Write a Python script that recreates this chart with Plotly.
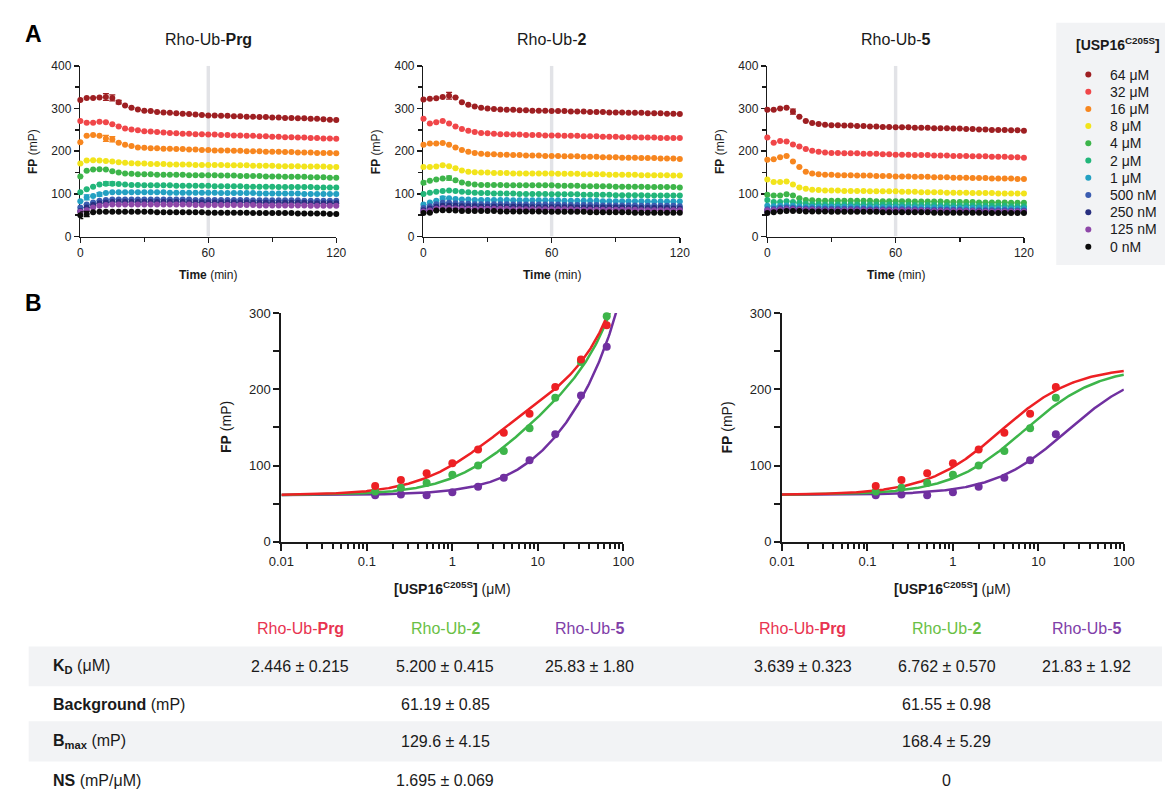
import numpy as np
import plotly.graph_objects as go

W, H = 1176, 796
FONT = "Liberation Sans, Arial, Helvetica, sans-serif"
INK = "#1a1a1a"

# ---------------- data: panel A (time courses) ----------------
TIME_MIN = list(range(0, 121, 3))
CONC_LABELS = ["64 μM", "32 μM", "16 μM", "8 μM", "4 μM", "2 μM", "1 μM",
               "500 nM", "250 nM", "125 nM", "0 nM"]
CONC_COLORS = ["#9e1f22", "#f04649", "#f7861f", "#f2e41b", "#3db54a", "#22b67a",
               "#23a0c2", "#3a5cb0", "#282f7f", "#8e47a8", "#0b0b0b"]
PANEL_TITLES = ["Rho-Ub-<b>Prg</b>", "Rho-Ub-<b>2</b>", "Rho-Ub-<b>5</b>"]

PRG_SERIES = [
    [320,325,325,326,327,325,315,307,302,298,295,294,292,291,290,289,288,287,286,285,284,284,283,283,282,282,281,281,280,280,279,279,278,278,277,277,276,276,275,274,273],
    [271,267,267,269,268,263,258,253,251,249,247,246,245,244,243,242,241,241,240,240,239,239,238,238,237,237,236,236,235,235,234,234,233,233,232,232,231,231,230,230,229],
    [221,236,238,236,230,228,220,215,212,209,208,207,207,206,206,205,205,204,204,203,203,202,202,202,201,201,200,200,200,199,199,199,198,198,197,197,197,196,196,196,195],
    [171,178,179,178,177,176,174,173,172,171,171,170,170,170,169,169,169,169,168,168,168,168,168,167,167,167,167,166,166,166,166,165,165,165,165,164,164,164,164,163,163],
    [141,154,157,158,157,153,150,148,147,146,146,146,145,145,145,145,145,144,144,144,144,144,143,143,143,142,142,142,142,141,141,141,140,140,140,140,139,139,139,138,138],
    [104,111,117,122,124,124,123,122,121,121,120,120,120,120,120,119,119,119,119,119,119,118,118,118,118,118,117,117,117,117,117,116,116,116,116,116,116,115,115,115,115],
    [83,92,95,99,102,104,104,104,104,104,104,104,104,104,103,103,103,103,103,103,103,103,102,102,102,102,102,102,101,101,101,101,101,101,101,100,100,100,100,100,100],
    [68,75,80,84,86,87,87,87,87,87,87,87,87,87,87,87,87,87,86,86,86,86,86,86,86,86,86,85,85,85,85,85,85,85,85,84,84,84,84,84,84],
    [60,68,74,78,80,81,81,81,81,81,81,81,81,81,81,81,81,80,80,80,80,80,80,80,80,80,80,79,79,79,79,79,79,79,79,79,78,78,78,78,78],
    [58,62,68,72,74,75,75,75,75,75,75,75,75,75,75,75,75,75,74,74,74,74,74,74,74,74,74,74,73,73,73,73,73,73,73,73,72,72,72,72,72],
    [50,53,57,58,58,58,58,58,58,58,58,58,57,57,57,57,57,57,57,57,56,56,56,56,56,56,56,55,55,55,55,55,55,55,54,54,54,54,54,53,53],
]
UB2_SERIES = [
    [321,323,324,327,330,326,315,309,305,302,300,299,298,297,297,296,296,295,295,295,294,294,294,293,293,293,292,292,292,291,291,291,290,290,290,289,289,289,288,288,287],
    [276,265,268,271,265,258,252,248,245,243,242,241,240,240,239,239,238,238,238,237,237,237,236,236,236,235,235,235,234,234,234,233,233,233,232,232,232,231,231,231,231],
    [215,218,218,219,215,209,203,199,196,194,193,193,192,192,191,191,190,190,190,189,189,189,188,188,188,187,187,187,186,186,186,185,185,185,184,184,184,183,183,183,182],
    [163,163,164,167,165,160,155,152,151,150,150,149,149,149,148,148,148,148,148,148,148,147,147,147,147,146,146,146,146,145,145,145,145,145,144,144,144,144,144,143,143],
    [126,131,134,136,137,132,127,124,122,121,121,121,121,120,120,120,120,120,120,120,120,119,119,119,119,118,118,118,118,118,117,117,117,117,117,116,116,116,116,116,115],
    [100,103,105,107,108,107,105,104,103,102,102,101,101,101,101,100,100,100,100,100,99,99,99,99,99,98,98,98,98,98,97,97,97,97,97,96,96,96,96,96,96],
    [75,80,84,90,90,88,87,87,86,86,86,86,86,86,85,85,85,85,85,85,85,85,84,84,84,84,84,84,83,83,83,83,83,83,83,82,82,82,82,82,82],
    [67,71,76,79,79,78,77,77,76,76,76,76,76,76,75,75,75,75,75,75,75,75,74,74,74,74,74,74,73,73,73,73,73,73,72,72,72,72,72,72,71],
    [62,66,70,72,72,72,71,71,71,70,70,70,70,70,70,70,70,69,69,69,69,69,69,69,68,68,68,68,68,68,68,68,67,67,67,67,67,67,67,66,66],
    [59,61,65,67,67,66,66,65,65,65,65,65,65,65,64,64,64,64,64,64,64,64,64,64,63,63,63,63,63,63,63,63,63,63,62,62,62,62,62,62,62],
    [55,56,61,62,62,61,60,60,60,60,60,60,59,59,59,59,59,59,59,58,58,58,58,58,58,58,57,57,57,57,57,57,57,56,56,56,56,56,56,56,56],
]
UB5_SERIES = [
    [297,297,300,302,293,281,271,266,264,262,261,261,260,260,259,259,258,258,257,257,256,256,256,255,255,255,254,254,254,253,253,252,252,251,251,250,250,250,249,249,248],
    [232,220,224,223,216,211,205,201,199,197,196,196,195,195,195,194,194,194,193,193,192,192,192,191,191,191,190,190,190,189,189,189,188,188,188,187,187,187,186,186,185],
    [180,181,186,189,176,163,152,148,146,145,145,144,144,144,143,143,143,142,142,142,141,141,141,140,140,140,139,139,139,138,138,138,137,137,137,136,136,136,136,135,135],
    [134,128,128,129,122,115,112,110,109,108,108,108,107,107,107,107,106,106,106,106,106,105,105,105,104,104,104,104,103,103,103,103,102,102,102,102,101,101,101,101,101],
    [98,96,96,99,96,90,86,85,84,84,84,84,84,84,84,84,84,83,83,83,83,83,83,82,82,82,82,82,81,81,81,81,81,80,80,80,80,80,79,79,79],
    [86,81,81,83,81,79,77,76,76,75,75,75,75,75,75,75,75,75,75,75,75,74,74,74,74,74,74,73,73,73,73,73,73,72,72,72,72,72,71,71,71],
    [72,71,72,73,72,71,70,70,70,70,70,70,70,70,69,69,69,69,69,69,69,69,68,68,68,68,68,68,67,67,67,67,67,67,67,66,66,66,66,66,66],
    [64,65,67,68,67,66,66,66,65,65,65,65,65,65,65,65,64,64,64,64,64,64,64,64,63,63,63,63,63,63,63,62,62,62,62,62,62,62,61,61,61],
    [59,61,63,64,64,63,62,62,62,62,62,62,61,61,61,61,61,61,61,61,60,60,60,60,60,60,60,60,59,59,59,59,59,59,59,58,58,58,58,58,58],
    [61,62,63,64,64,63,63,63,62,62,62,62,62,62,62,62,61,61,61,61,61,61,61,61,61,60,60,60,60,60,60,60,60,59,59,59,59,59,59,59,59],
    [55,57,59,60,60,60,59,59,59,59,58,58,58,58,58,58,58,58,57,57,57,57,57,57,57,57,56,56,56,56,56,56,56,56,55,55,55,55,55,55,55],
]
# (panel index, series index, time index, SEM)
ERROR_BARS = [(0, 0, 4, 8), (0, 0, 5, 7), (0, 0, 6, 4), (0, 2, 4, 7), (0, 2, 5, 6),
              (0, 5, 4, 4), (0, 5, 5, 4), (0, 6, 1, 6), (0, 6, 3, 4), (0, 10, 0, 8),
              (0, 10, 1, 6), (1, 0, 4, 8), (1, 4, 0, 4), (1, 4, 4, 5), (1, 6, 3, 4),
              (2, 0, 4, 6)]

# ---------------- data: panel B (binding curves) ----------------
CONC_UM = [0.125, 0.25, 0.5, 1, 2, 4, 8, 16, 32, 64]
FP_PRG = [73, 81, 90, 103, 121, 143, 168, 203, 239, 284]
FP_UB2 = [66, 71, 77, 88, 100, 119, 149, 189, 236, 296]
FP_UB5 = [61, 62, 61, 65, 72, 84, 107, 141, 192, 256]
PROBES = ["Rho-Ub-<b>Prg</b>", "Rho-Ub-<b>2</b>", "Rho-Ub-<b>5</b>"]
PROBE_COLORS = ["#ed2024", "#3db54a", "#7030a0"]
PROBE_HEADER_COLORS = ["#e83450", "#6abf45", "#8040a8"]
N_RIGHT = 8  # right-hand fit uses concentrations up to 16 µM

# fit parameters (table)
KD_LEFT = [2.446, 5.200, 25.83]
BG_LEFT, BMAX_LEFT, NS_LEFT = 61.19, 129.6, 1.695
KD_RIGHT = [3.639, 6.762, 21.83]
BG_RIGHT, BMAX_RIGHT, NS_RIGHT = 61.55, 168.4, 0.0

ROW_LABELS = ["<b>K</b><sub><b>D</b></sub> (μM)", "<b>Background</b> (mP)",
              "<b>B</b><sub><b>max</b></sub> (mP)", "<b>NS</b> (mP/μM)"]
KD_TEXT = ["2.446 ± 0.215", "5.200 ± 0.415", "25.83 ± 1.80",
           "3.639 ± 0.323", "6.762 ± 0.570", "21.83 ± 1.92"]
SHARED_TEXT_LEFT = ["61.19 ± 0.85", "129.6 ± 4.15", "1.695 ± 0.069"]
SHARED_TEXT_RIGHT = ["61.55 ± 0.98", "168.4 ± 5.29", "0"]


# ---------------- helpers ----------------
def px(x):
    return x / W


def py(y):
    return 1 - y / H


def ann(text, x, y, size, color=INK, xanchor="center", angle=0):
    return dict(text=text, x=px(x), y=py(y), xref="paper", yref="paper", showarrow=False,
                xanchor=xanchor, yanchor="middle", textangle=angle,
                font=dict(family=FONT, size=size, color=color))


fig = go.Figure()
annotations = []
shapes = []

# ---------------- panel A ----------------
panel_px = [(68.7, 330.0), (419.0, 680.7), (770.0, 1032.0)]
top_y = (60.0, 234.0)
all_series = [PRG_SERIES, UB2_SERIES, UB5_SERIES]
for p, series in enumerate(all_series):
    xa, ya = f"x{p+1}", f"y{p+1}"
    for s, vals in enumerate(series):
        errs = [0] * len(vals)
        for (pp, ss, ti, e) in ERROR_BARS:
            if pp == p and ss == s:
                errs[ti] = e
        fig.add_trace(go.Scatter(
            x=TIME_MIN, y=vals, mode="markers", xaxis=xa, yaxis=ya, cliponaxis=False,
            marker=dict(size=6, color=CONC_COLORS[s], line=dict(width=0)),
            error_y=dict(type="data", array=errs, visible=True, thickness=1.2, width=3,
                         color=CONC_COLORS[s]),
            name=CONC_LABELS[s], showlegend=False, hoverinfo="skip"))
    shapes.append(dict(type="rect", xref=xa, yref=ya, x0=59.2, x1=60.8, y0=0, y1=400,
                       fillcolor="#e2e3e7", line=dict(width=0), layer="below"))
    cx = (panel_px[p][0] + panel_px[p][1]) / 2
    annotations.append(ann(PANEL_TITLES[p], cx, 33, 16))
    annotations.append(ann("<b>Time</b> (min)", cx, 273, 12))
    annotations.append(ann("<b>FP</b> (mP)", panel_px[p][0] - 48.5, 147, 12, angle=-90))

# ---------------- panel B ----------------
bot_px = [(274.0, 623.0), (785.0, 1134.0)]
bot_y = (312.0, 545.0)
xfit = np.logspace(-2, 2, 400)
fits = [(KD_LEFT, BG_LEFT, BMAX_LEFT, NS_LEFT, len(CONC_UM)),
        (KD_RIGHT, BG_RIGHT, BMAX_RIGHT, NS_RIGHT, N_RIGHT)]
points = [FP_PRG, FP_UB2, FP_UB5]
for b, (kds, bg, bmax, ns, npts) in enumerate(fits):
    xa, ya = f"x{b+4}", f"y{b+4}"
    for k in [2, 1, 0]:
        yfit = bg + bmax * xfit / (kds[k] + xfit) + ns * xfit
        fig.add_trace(go.Scatter(x=xfit, y=yfit, mode="lines", xaxis=xa, yaxis=ya,
                                 line=dict(color=PROBE_COLORS[k], width=2.5),
                                 showlegend=False, hoverinfo="skip"))
    for k in [2, 1, 0]:
        fig.add_trace(go.Scatter(x=CONC_UM[:npts], y=points[k][:npts], mode="markers",
                                 xaxis=xa, yaxis=ya, cliponaxis=False,
                                 marker=dict(size=8, color=PROBE_COLORS[k]),
                                 showlegend=False, hoverinfo="skip"))
    cx = (bot_px[b][0] + bot_px[b][1]) / 2
    annotations.append(ann("<b>[USP16<sup>C205S</sup>]</b> (μM)", cx, 592, 14))
    annotations.append(ann("<b>FP</b> (mP)", bot_px[b][0] - 56, 428.5, 14, angle=-90))

# ---------------- legend (drawn as its own small axis) ----------------
shapes.append(dict(type="rect", xref="paper", yref="paper", x0=px(1065), x1=1.0,
                   y0=py(263), y1=py(16), fillcolor="#f2f3f5", line=dict(width=0),
                   layer="below"))
idx = list(range(len(CONC_LABELS)))
fig.add_trace(go.Scatter(x=[20.7] * len(idx), y=idx, mode="markers", xaxis="x6", yaxis="y6",
                         marker=dict(size=6, color=CONC_COLORS), cliponaxis=False,
                         showlegend=False, hoverinfo="skip"))
LEG_TOP, LEG_STEP = 68.8, 17.55
for i, lab in enumerate(CONC_LABELS):
    annotations.append(ann(lab, 1118, LEG_TOP + i * LEG_STEP, 14, xanchor="left"))
annotations.append(ann("<b>[USP16<sup>C205S</sup>]</b>", 1128, 38, 14))

# ---------------- panel letters ----------------
annotations.append(ann("<b>A</b>", 21, 28, 23, color="#000"))
annotations.append(ann("<b>B</b>", 21, 302, 23, color="#000"))

# ---------------- table ----------------
for (y0, y1) in [(651.7, 692.3), (728.0, 769.0)]:
    shapes.append(dict(type="rect", xref="paper", yref="paper", x0=px(16), x1=px(1173),
                       y0=py(y1), y1=py(y0), fillcolor="#f2f3f5", line=dict(width=0),
                       layer="below"))
col_x = [293, 441, 589, 806, 953, 1096]
row_y = [672.5, 710.7, 749.0, 788.0]
for c in range(6):
    annotations.append(ann(PROBES[c % 3], col_x[c], 633, 16, color=PROBE_HEADER_COLORS[c % 3]))
    annotations.append(ann(KD_TEXT[c], col_x[c], row_y[0], 16))
for r, label in enumerate(ROW_LABELS):
    annotations.append(ann(label, 39, row_y[r], 16, xanchor="left"))
for r in range(3):
    annotations.append(ann(SHARED_TEXT_LEFT[r], col_x[1], row_y[r + 1], 16))
    annotations.append(ann(SHARED_TEXT_RIGHT[r], col_x[4], row_y[r + 1], 16))

# ---------------- axes ----------------
layout_axes = {}
for p in range(3):
    layout_axes[f"xaxis{p+1}" if p else "xaxis"] = dict(
        domain=[px(panel_px[p][0]), px(panel_px[p][1])], anchor=f"y{p+1}",
        range=[0, 120], tickvals=[0, 60, 120], ticks="outside", ticklen=5, tickwidth=1.5,
        tickcolor=INK, showline=True, linewidth=1.5, linecolor=INK, showgrid=False,
        zeroline=False, layer="below traces",
        tickfont=dict(family=FONT, size=12, color="#222"),
        minor=dict(tickvals=[30, 90], ticks="outside", ticklen=4, tickwidth=1.5,
                   tickcolor=INK, showgrid=False))
    layout_axes[f"yaxis{p+1}" if p else "yaxis"] = dict(
        domain=[py(top_y[1]), py(top_y[0])], anchor=f"x{p+1}",
        range=[0, 400], tickvals=[0, 100, 200, 300, 400], ticks="outside", ticklen=5,
        tickwidth=1.5, tickcolor=INK, showline=True, linewidth=1.5, linecolor=INK,
        showgrid=False, zeroline=False, layer="below traces",
        tickfont=dict(family=FONT, size=12, color="#222"),
        minor=dict(tickvals=[50, 150, 250, 350], ticks="outside", ticklen=4, tickwidth=1.5,
                   tickcolor=INK, showgrid=False))

minor_log = [m * d for d in [0.01, 0.1, 1, 10] for m in range(2, 10)]
for b in range(2):
    layout_axes[f"xaxis{b+4}"] = dict(
        domain=[px(bot_px[b][0]), px(bot_px[b][1])], anchor=f"y{b+4}", type="log",
        range=[-2, 2], tickvals=[0.01, 0.1, 1, 10, 100],
        ticktext=["0.01", "0.1", "1", "10", "100"], ticks="outside", ticklen=7,
        tickwidth=2, tickcolor=INK, showline=True, linewidth=2, linecolor=INK,
        showgrid=False, zeroline=False, tickfont=dict(family=FONT, size=13, color="#222"),
        minor=dict(tickvals=minor_log, ticks="outside", ticklen=5, tickwidth=2,
                   tickcolor=INK, showgrid=False))
    layout_axes[f"yaxis{b+4}"] = dict(
        domain=[py(bot_y[1]), py(bot_y[0])], anchor=f"x{b+4}", range=[0, 300],
        tickvals=[0, 100, 200, 300], ticks="outside", ticklen=6, tickwidth=2,
        tickcolor=INK, showline=True, linewidth=2, linecolor=INK, showgrid=False,
        zeroline=False, tickfont=dict(family=FONT, size=13, color="#222"),
        minor=dict(tickvals=[50, 150, 250], ticks="outside", ticklen=6, tickwidth=2,
                   tickcolor=INK, showgrid=False))

layout_axes["xaxis6"] = dict(domain=[px(1077), 1.0], anchor="y6", range=[0, 99],
                             visible=False, fixedrange=True)
layout_axes["yaxis6"] = dict(domain=[py(253), py(60)], anchor="x6", range=[10.5, -0.5],
                             visible=False, fixedrange=True)

fig.update_layout(
    width=W, height=H, margin=dict(l=0, r=0, t=0, b=0),
    paper_bgcolor="white", plot_bgcolor="rgba(0,0,0,0)",
    font=dict(family=FONT, color=INK), showlegend=False, hovermode=False,
    annotations=annotations, shapes=shapes, **layout_axes)

fig.write_html("out.html", config={"displayModeBar": False, "staticPlot": True},
               post_script="document.body.style.margin='0';"
                           "document.body.style.overflow='hidden';")
